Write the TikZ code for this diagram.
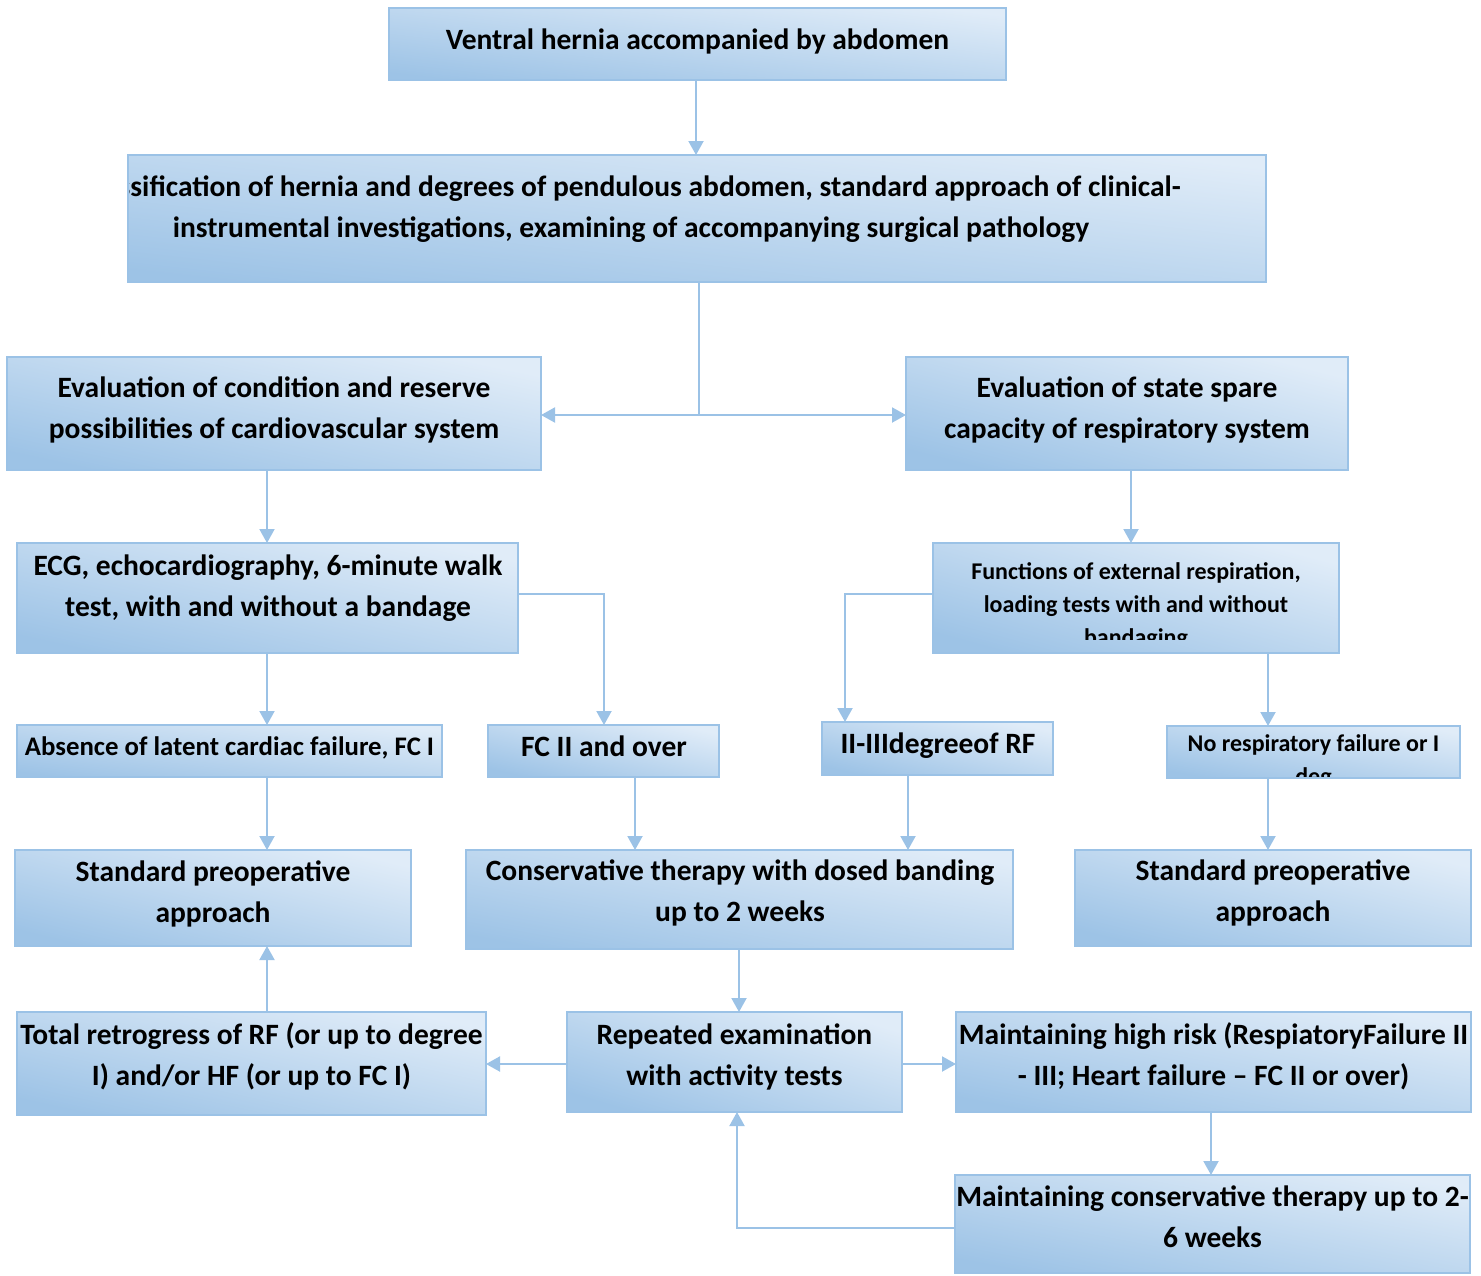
\documentclass[tikz,border=0pt]{standalone}
\usepackage{fontspec}
\setmainfont{Carlito}
\usetikzlibrary{arrows.meta,fit}
\definecolor{bdark}{RGB}{157,195,230}
\definecolor{blight}{RGB}{224,236,248}
\definecolor{bline}{RGB}{155,194,230}
\newcommand\mkbox[5]{%
  \pgfmathsetmacro\bxang{-atan((#5-#3)/(#4-#2))}%
  \node[box, shading angle=\bxang, fit={(#2,#3) (#4,#5)}] (#1) {};}
\begin{document}
\begin{tikzpicture}[x=1pt,y=-1pt,
 box/.style={draw=bline, line width=2.5pt, inner sep=0pt, outer sep=0pt, top color=blight, bottom color=bdark},
 txt/.style={font=\bfseries\fontsize{29.5}{41}\selectfont, align=center, inner sep=0pt, anchor=base},
 stxt/.style={txt, font=\bfseries\fontsize{24}{33}\selectfont},
 mtxt/.style={txt, font=\bfseries\fontsize{26.8}{36}\selectfont},
 arr/.style={draw=bline, line width=2pt, -{Triangle[length=14pt,width=15pt]}},
 ln/.style={draw=bline, line width=2pt}]
\useasboundingbox (0,0) rectangle (1481,1275);
% boxes
\mkbox{top}{389}{8}{1006}{80}
\mkbox{cls}{128}{155}{1266}{282}
\mkbox{leval}{7}{357}{541}{470}
\mkbox{reval}{906}{357}{1348}{470}
\mkbox{ecg}{17}{543}{518}{653}
\mkbox{fer}{933}{543}{1339}{653}
\mkbox{abs}{17}{725}{442}{777}
\mkbox{fc2}{488}{725}{719}{777}
\mkbox{rf23}{822}{722}{1053}{775}
\mkbox{norf}{1167}{726}{1460}{778}
\mkbox{stdl}{15}{850}{411}{946}
\mkbox{cons}{466}{850}{1013}{949}
\mkbox{stdr}{1075}{850}{1471}{946}
\mkbox{tot}{17}{1012}{486}{1115}
\mkbox{rep}{567}{1012}{902}{1112}
\mkbox{high}{956}{1012}{1471}{1112}
\mkbox{mcons}{955}{1175}{1470}{1273}
% texts (anchor = baseline of the last line)
\node[txt] (topt) at (697.5,49) {Ventral hernia accompanied by abdomen};
\begin{scope}
\clip ([xshift=1.25pt,yshift=1.25pt]cls.south west) rectangle ([xshift=-1.25pt,yshift=-1.25pt]cls.north east);
\node[txt] (clst) at (631,237) {Classification of hernia and degrees of pendulous abdomen, standard approach of clinical-\\instrumental investigations, examining of accompanying surgical pathology};
\end{scope}
\node[txt] (levalt) at (274,438) {Evaluation of condition and reserve\\possibilities of cardiovascular system};
\node[txt] (revalt) at (1127,438) {Evaluation of state spare\\capacity of respiratory system};
\node[txt] (ecgt) at (268,616) {ECG, echocardiography, 6-minute walk\\test, with and without a bandage};
\begin{scope}
\clip ([xshift=1.25pt]fer.north west) rectangle ([xshift=-1.25pt,yshift=14pt]fer.south east);
\node[stxt] (fert) at (1136,645) {Functions of external respiration,\\loading tests with and without\\bandaging};
\end{scope}
\node[mtxt] (abst) at (229.5,755) {Absence of latent cardiac failure, FC I};
\node[txt] (fc2t) at (604,756) {FC II and over};
\node[txt] (rf23t) at (938,753) {II-IIIdegreeof RF};
\begin{scope}
\clip ([xshift=1.25pt,yshift=1.25pt]norf.south west) rectangle ([xshift=-1.25pt,yshift=-1.25pt]norf.north east);
\node[stxt] (norft) at (1313.5,784) {No respiratory failure or I\\deg};
\end{scope}
\node[txt] (stdlt) at (213,922) {Standard preoperative\\approach};
\node[txt] (const) at (740,921) {Conservative therapy with dosed banding\\up to 2 weeks};
\node[txt] (stdrt) at (1273,921) {Standard preoperative\\approach};
\node[txt] (tott) at (251.5,1085) {Total retrogress of RF (or up to degree\\I) and/or HF (or up to FC I)};
\node[txt] (rept) at (734.5,1085) {Repeated examination\\with activity tests};
\node[txt] (hight) at (1213.5,1085) {Maintaining high risk (RespiatoryFailure II\\- III; Heart failure – FC II or over)};
\node[txt] (mconst) at (1212.5,1247) {Maintaining conservative therapy up to 2-\\6 weeks};
% column / row coordinates
\coordinate (c696) at (696,0);
\coordinate (c699) at (699,0);
\coordinate (c267) at (267,0);
\coordinate (c1131) at (1131,0);
\coordinate (c604) at (604,0);
\coordinate (c845) at (845,0);
\coordinate (c1268) at (1268,0);
\coordinate (c635) at (635,0);
\coordinate (c908) at (908,0);
\coordinate (c739) at (739,0);
\coordinate (c1211) at (1211,0);
\coordinate (c737) at (737,0);
\coordinate (r594) at (0,594);
\coordinate (r1064) at (0,1064);
\coordinate (r1228) at (0,1228);
\coordinate (j) at (699,415);
% connectors
\draw[arr] (top.south -| c696) -- (cls.north -| c696);
\draw[ln] (cls.south -| c699) -- (j);
\draw[arr] (j) -- (leval.east |- j);
\draw[arr] (j) -- (reval.west |- j);
\draw[arr] (leval.south -| c267) -- (ecg.north -| c267);
\draw[arr] (reval.south -| c1131) -- (fer.north -| c1131);
\draw[arr] (ecg.south -| c267) -- (abs.north -| c267);
\draw[arr] (ecg.east |- r594) -| (fc2.north -| c604);
\draw[arr] (fer.west |- r594) -| (rf23.north -| c845);
\draw[arr] (fer.south -| c1268) -- (norf.north -| c1268);
\draw[arr] (abs.south -| c267) -- (stdl.north -| c267);
\draw[arr] (fc2.south -| c635) -- (cons.north -| c635);
\draw[arr] (rf23.south -| c908) -- (cons.north -| c908);
\draw[arr] (norf.south -| c1268) -- (stdr.north -| c1268);
\draw[arr] (cons.south -| c739) -- (rep.north -| c739);
\draw[arr] (tot.north -| c267) -- (stdl.south -| c267);
\draw[arr] (rep.west |- r1064) -- (tot.east |- r1064);
\draw[arr] (rep.east |- r1064) -- (high.west |- r1064);
\draw[arr] (high.south -| c1211) -- (mcons.north -| c1211);
\draw[arr] (mcons.west |- r1228) -| (rep.south -| c737);
\end{tikzpicture}
\end{document}
